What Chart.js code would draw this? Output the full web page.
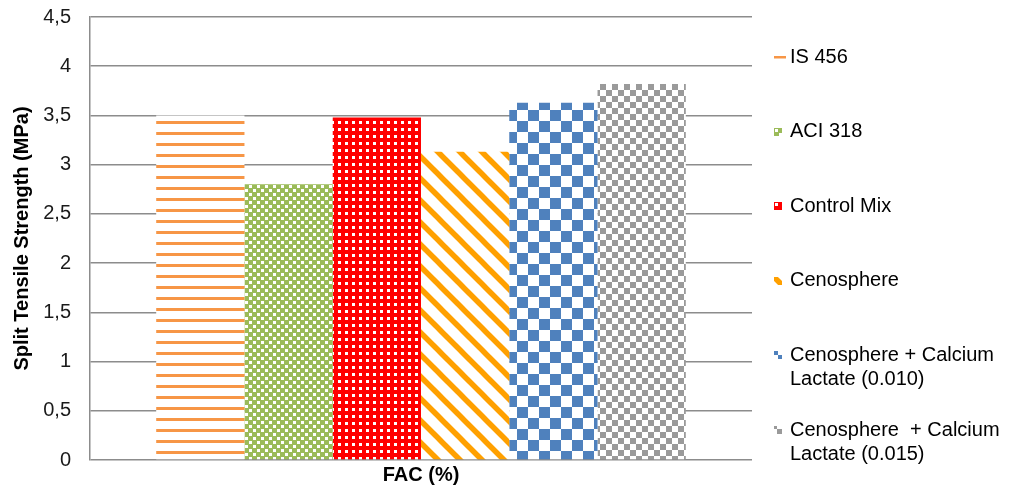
<!DOCTYPE html>
<html>
<head>
<meta charset="utf-8">
<script src="https://cdn.jsdelivr.net/npm/chart.js@4.4.1/dist/chart.umd.min.js"></script>
<style>
  html, body { margin: 0; padding: 0; background: #ffffff; }
  #wrap { width: 1018px; height: 488px; }
</style>
</head>
<body>
<div id="wrap"><canvas id="c" width="1018" height="488"></canvas></div>
<script>
const categories = [''];
const seriesNames = ['IS 456', 'ACI 318', 'Control Mix', 'Cenosphere', 'Cenosphere + Calcium Lactate (0.010)', 'Cenosphere  + Calcium Lactate (0.015)'];
const legendLines = [['IS 456'], ['ACI 318'], ['Control Mix'], ['Cenosphere'], ['Cenosphere + Calcium', 'Lactate (0.010)'], ['Cenosphere  + Calcium', 'Lactate (0.015)']];
const strengthValues = [3.50, 2.80, 3.48, 3.13, 3.63, 3.82];
const yTickLabels = ['0', '0,5', '1', '1,5', '2', '2,5', '3', '3,5', '4', '4,5'];
const xTitle = 'FAC (%)';
const yTitle = 'Split Tensile Strength (MPa)';

const canvas = document.getElementById('c');
const ctx = canvas.getContext('2d');

function makePattern(size, draw) {
  const c = document.createElement('canvas');
  c.width = size; c.height = size;
  const x = c.getContext('2d');
  draw(x, size);
  return ctx.createPattern(c, 'repeat');
}

const patterns = [
  makePattern(11, (x, s) => { x.fillStyle = '#fff'; x.fillRect(0, 0, s, s); x.fillStyle = '#F79646'; x.fillRect(0, 0, s, 3); }),
  makePattern(8, (x, s) => { x.fillStyle = '#9BBB59'; x.fillRect(0, 0, s, s); x.fillStyle = '#fff'; x.fillRect(1, 1, 3, 3); x.fillRect(5, 5, 3, 3); }),
  makePattern(7, (x, s) => { x.fillStyle = '#FF0000'; x.fillRect(0, 0, s, s); x.fillStyle = '#fff'; x.fillRect(2, 2, 3, 3); }),
  makePattern(22, (x, s) => {
    x.fillStyle = '#fff'; x.fillRect(0, 0, s, s);
    x.strokeStyle = '#FFA000'; x.lineWidth = 5.5;
    for (const k of [-s, 0, s]) { x.beginPath(); x.moveTo(k - 5, -5); x.lineTo(k + s + 5, s + 5); x.stroke(); }
  }),
  makePattern(22, (x, s) => { x.fillStyle = '#fff'; x.fillRect(0, 0, s, s); x.fillStyle = '#4F81BD'; x.fillRect(0, 0, 11, 11); x.fillRect(11, 11, 11, 11); }),
  makePattern(12, (x, s) => { x.fillStyle = '#fff'; x.fillRect(0, 0, s, s); x.fillStyle = '#9A9A9A'; x.fillRect(0, 0, 6, 6); x.fillRect(6, 6, 6, 6); })
];
const markerColors = ['#F79646', '#9BBB59', '#FF0000', '#FFA000', '#4F81BD', '#9A9A9A'];
const markerOffsets = [0, 0, -1, -12, -7, -3];

const datasets = seriesNames.map((name, i) => ({
  label: name,
  data: [strengthValues[i]],
  backgroundColor: patterns[i],
  borderWidth: 0,
  barPercentage: 1.0,
  categoryPercentage: 0.8
}));

const FONT = "'Liberation Sans', Arial, sans-serif";

const customLegend = {
  id: 'customLegend',
  afterDraw(chart) {
    const c = chart.ctx;
    c.save();
    c.font = '20px ' + FONT;
    c.textBaseline = 'middle';
    c.textAlign = 'left';
    const startY = 57, step = 74.6, lineH = 24;
    legendLines.forEach((lines, i) => {
      const y = startY + i * step;
      if (i === 0) {
        c.fillStyle = markerColors[0];
        c.fillRect(774, Math.round(y) - 1, 12, 2.5);
      } else {
        c.save();
        const o = markerOffsets[i];
        c.translate(774 + o, Math.round(y) - 4 + o);
        c.fillStyle = patterns[i];
        c.fillRect(-o, -o, 8, 8);
        c.restore();
      }
      c.fillStyle = '#000';
      lines.forEach((t, j) => c.fillText(t, 790, y + j * lineH));
    });
    c.restore();
  }
};

new Chart(canvas, {
  type: 'bar',
  data: { labels: categories, datasets },
  options: {
    responsive: false,
    animation: false,
    devicePixelRatio: 1,
    layout: { padding: { top: 17, right: 266, left: 0, bottom: 0 } },
    plugins: { legend: { display: false }, tooltip: { enabled: false } },
    scales: {
      x: {
        grid: { display: false },
        border: { display: false },
        ticks: { display: false },
        title: { display: true, text: xTitle, color: '#000', font: { family: FONT, size: 20, weight: 'bold' }, padding: { top: 0, bottom: 1 } },
        afterFit(scale) { scale.height = 28; scale.paddingLeft = 0; scale.paddingRight = 0; }
      },
      y: {
        min: 0, max: 4.5,
        ticks: {
          stepSize: 0.5,
          padding: 19,
          color: '#1a1a1a',
          font: { family: FONT, size: 20 },
          callback: (v, idx) => yTickLabels[idx]
        },
        grid: { color: '#8C8C8C', lineWidth: 1.5, drawTicks: false },
        border: { color: '#8C8C8C', width: 1.5 },
        title: { display: true, text: yTitle, color: '#000', font: { family: FONT, size: 20, weight: 'bold' }, padding: { top: 10, bottom: 0 } },
        afterFit(scale) { scale.width = 90; scale.paddingTop = 0; scale.paddingBottom = 0; }
      }
    }
  },
  plugins: [customLegend]
});
</script>
</body>
</html>
